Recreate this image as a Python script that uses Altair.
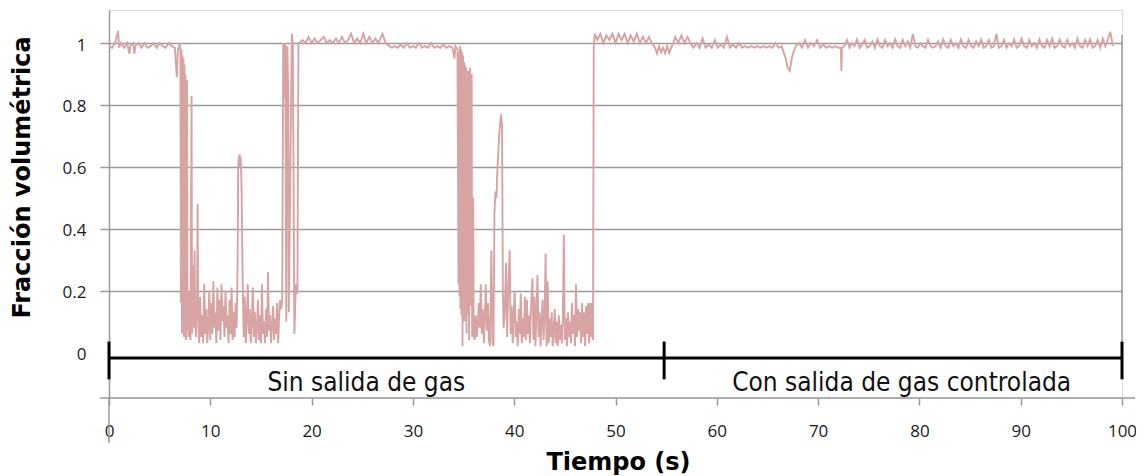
import altair as alt
import pandas as pd

# ---------------- data ----------------
seg_plateau_a = [(0.0,0.99),(0.3,0.985),(0.6,1.0),(0.9,1.04),(1.0,0.985),(1.2,1.0),(1.5,0.985),(1.8,1.0),
                 (2.0,0.965),(2.1,0.99),(2.4,1.0),(2.5,0.965),(2.6,0.99),(2.9,1.0),(3.2,0.985),(3.5,1.0),
                 (3.8,0.985),(4.1,0.99),(4.4,1.0),(4.7,0.985),(5.0,1.0),(5.3,0.99),(5.6,0.985),(5.9,1.0),
                 (6.2,0.99),(6.5,0.985),(6.7,0.89),(6.8,0.98),(6.95,0.99)]

seg_dip_a = [(7.0,1.0),(7.05,0.97),(7.1,0.16),(7.15,0.98),(7.2,0.06),(7.25,0.96),(7.3,0.12),(7.35,0.95),
             (7.4,0.05),(7.45,0.93),(7.5,0.08),(7.55,0.9),(7.6,0.04),(7.7,0.88),(7.75,0.1),(7.85,0.05),
             (7.95,0.2),(8.05,0.04),(8.15,0.83),(8.2,0.06),(8.3,0.28),(8.35,0.08),(8.45,0.33),(8.5,0.1),
             (8.6,0.05),(8.7,0.2),(8.75,0.48),(8.8,0.15),(8.9,0.03),
             (9.0,0.18),(9.1,0.05),(9.2,0.12),(9.3,0.03),(9.4,0.22),(9.5,0.06),(9.6,0.14),(9.7,0.03),
             (9.8,0.09),(9.9,0.2),(10.0,0.04),(10.1,0.16),(10.2,0.06),(10.3,0.23),(10.4,0.08),(10.5,0.13),
             (10.6,0.03),(10.7,0.21),(10.8,0.07),(10.9,0.17),(11.0,0.04),(11.1,0.22),(11.2,0.1),(11.3,0.15),
             (11.4,0.05),(11.5,0.2),(11.6,0.08),(11.7,0.12),(11.8,0.03),(11.9,0.17),(12.0,0.06),(12.1,0.21),
             (12.2,0.04),(12.3,0.13),(12.4,0.05),(12.5,0.16),(12.6,0.08),
             (12.7,0.3),(12.75,0.6),(12.8,0.62),(12.9,0.64),(12.95,0.6),(13.0,0.63),(13.05,0.58),(13.1,0.5),
             (13.15,0.35),(13.2,0.22),
             (13.3,0.05),(13.4,0.18),(13.5,0.03),(13.6,0.11),(13.7,0.22),(13.8,0.06),(13.9,0.14),(14.0,0.03),
             (14.1,0.1),(14.2,0.21),(14.3,0.05),(14.4,0.13),(14.5,0.03),(14.6,0.08),(14.7,0.17),(14.8,0.04),
             (14.9,0.12),(15.0,0.03),(15.1,0.22),(15.2,0.06),(15.3,0.1),(15.4,0.03),(15.5,0.14),(15.6,0.05),
             (15.7,0.26),(15.8,0.07),(15.9,0.12),(16.0,0.03),(16.1,0.09),(16.2,0.15),(16.3,0.04),(16.4,0.11),
             (16.5,0.06),(16.6,0.16),(16.7,0.03),(16.8,0.12),(16.9,0.17),(17.0,0.14),
             (17.1,0.17),(17.2,1.0),(17.3,0.82),(17.4,1.0),(17.5,0.1),(17.6,0.99),(17.7,0.82),(17.75,0.13),
             (18.05,1.03),(18.15,0.99),(18.3,0.06),(18.45,0.22),(18.6,0.19),(18.7,1.0)]

seg_plateau_b = [(18.8,1.0),(19.1,1.01),(19.4,1.0),(19.7,1.02),(20.0,1.0),(20.3,1.015),(20.6,1.0),(20.9,1.01),
                 (21.2,1.02),(21.5,1.0),(21.8,1.01),(22.1,1.0),(22.4,1.015),(22.7,1.0),(23.0,1.02),(23.3,1.0),
                 (23.6,1.01),(23.9,1.03),(24.2,1.0),(24.5,1.015),(24.8,1.0),(25.1,1.03),(25.4,1.0),(25.7,1.02),
                 (26.0,1.0),(26.3,1.015),(26.6,1.0),(27.0,1.03),(27.3,1.0),(27.7,0.99)]

seg_plateau_c = [(27.9,0.985),(28.2,0.99),(28.5,0.985),(28.8,0.995),(29.1,0.985),(29.4,1.0),(29.7,0.985),
                 (30.0,0.99),(30.3,0.985),(30.6,1.0),(30.9,0.985),(31.2,0.99),(31.5,0.985),(31.8,1.0),
                 (32.1,0.985),(32.4,0.99),(32.7,0.985),(33.0,0.995),(33.3,0.985),(33.6,0.99),(33.9,0.985),
                 (34.1,0.95),(34.2,0.99),(34.3,0.985)]

seg_dip_b = [(34.4,0.98),(34.5,0.22),(34.55,0.97),(34.6,0.18),(34.65,0.99),(34.7,0.14),(34.75,0.98),(34.8,0.12),
             (34.85,0.97),(34.9,0.02),(34.95,0.96),(35.0,0.15),(35.05,0.94),(35.1,0.1),(35.15,0.93),(35.2,0.18),
             (35.25,0.92),(35.3,0.06),(35.35,0.91),(35.4,0.12),(35.5,0.91),(35.55,0.04),(35.65,0.92),(35.7,0.15),
             (35.8,0.9),(35.85,0.05),(35.95,0.5),(36.0,0.06),
             (36.1,0.04),(36.2,0.12),(36.3,0.05),(36.4,0.09),(36.5,0.16),(36.6,0.08),(36.7,0.22),(36.8,0.06),
             (36.9,0.14),(37.0,0.03),(37.1,0.11),(37.2,0.22),(37.3,0.07),(37.4,0.16),(37.5,0.04),(37.6,0.02),
             (37.75,0.33),(37.85,0.03),(37.95,0.02),
             (38.05,0.45),(38.15,0.52),(38.25,0.5),(38.35,0.6),(38.45,0.66),(38.55,0.72),(38.65,0.75),
             (38.7,0.77),(38.8,0.73),(38.88,0.2),
             (38.95,0.08),(39.05,0.12),(39.2,0.29),(39.3,0.05),(39.4,0.18),(39.55,0.33),(39.65,0.06),
             (39.75,0.15),(39.85,0.03),(39.95,0.12),(40.05,0.2),(40.15,0.05),(40.25,0.1),(40.35,0.02),
             (40.45,0.14),(40.55,0.06),(40.65,0.19),(40.75,0.03),(40.85,0.11),(40.95,0.05),(41.05,0.18),
             (41.15,0.04),(41.25,0.17),(41.35,0.06),(41.45,0.12),(41.55,0.03),(41.65,0.14),(41.8,0.24),
             (41.9,0.04),(42.0,0.18),(42.1,0.02),(42.2,0.14),(42.3,0.25),(42.4,0.05),(42.5,0.13),(42.6,0.02),
             (42.7,0.1),(42.8,0.17),(42.9,0.04),(43.0,0.12),(43.1,0.32),(43.2,0.02),(43.3,0.23),(43.4,0.03),
             (43.5,0.11),(43.6,0.05),(43.7,0.13),(43.8,0.02),(43.9,0.07),(44.0,0.14),(44.1,0.03),(44.2,0.1),
             (44.3,0.02),(44.4,0.12),(44.5,0.04),(44.6,0.09),(44.7,0.03),(44.8,0.11),(44.9,0.38),(45.0,0.04),
             (45.1,0.11),(45.2,0.02),(45.3,0.13),(45.4,0.05),(45.5,0.1),(45.6,0.03),(45.7,0.16),(45.8,0.06),
             (45.9,0.12),(46.0,0.02),(46.1,0.22),(46.2,0.05),(46.3,0.14),(46.4,0.07),(46.5,0.13),(46.6,0.03),
             (46.7,0.16),(46.8,0.05),(46.9,0.13),(47.0,0.02),(47.1,0.15),(47.2,0.06),(47.3,0.16),(47.4,0.03),
             (47.5,0.16),(47.6,0.05),(47.7,0.16),(47.78,0.04)]

seg_mid = [(47.85,0.98),(47.95,1.03),(48.2,1.01),(48.5,1.03),(48.8,1.0),(49.1,1.025),(49.4,1.01),(49.7,1.03),
           (50.0,1.0),(50.3,1.03),(50.6,1.01),(50.9,1.03),(51.2,1.0),(51.5,1.025),(51.8,1.005),(52.1,1.03),
           (52.4,1.0),(52.7,1.02),(53.0,1.0),(53.3,1.02),(53.6,1.0),
           (53.9,0.985),(54.1,0.967),(54.3,0.99),(54.5,0.97),(54.7,0.985),(54.9,0.967),(55.1,0.99),
           (55.3,0.968),(55.5,0.985),(55.7,1.0),
           (55.9,1.02),(56.2,1.0),(56.5,1.025),(56.8,1.0),(57.1,1.02),(57.4,1.0),
           (57.7,0.985),(58.0,1.0),(58.3,0.985),(58.6,1.015),(58.9,0.985),(59.2,0.995),(59.5,0.985),
           (59.8,1.01),(60.1,0.985),(60.4,0.995),(60.7,0.985),(61.0,1.02),(61.3,0.985),(61.6,0.995),
           (61.9,0.985),(62.2,1.0),(62.5,0.985),(62.8,0.99),(63.1,0.985),(63.4,0.99),(63.7,0.985),
           (64.0,0.99),(64.3,0.985),(64.6,0.99),(64.9,0.985),(65.2,0.99),(65.5,0.985),(65.8,1.0),
           (66.1,0.985),(66.4,0.99),
           (66.6,0.97),(66.8,0.95),(67.0,0.92),(67.2,0.91),(67.4,0.95),(67.6,0.975),(67.8,0.99),
           (68.1,1.0),(68.4,0.985),(68.7,1.01),(69.0,0.985),(69.3,1.0),(69.6,0.99),(69.9,1.01),(70.2,0.985),
           (70.5,0.995),(70.8,0.985),(71.1,0.99),(71.4,0.985),(71.7,0.99),(72.0,0.985),(72.25,0.985),
           (72.3,0.91),(72.35,0.985)]

# last stretch, sampled every 0.25 s from t = 72.6 s
tail_start, tail_step = 72.6, 0.25
tail_values = [0.99,1.01,0.985,1.0,0.99,1.012,0.985,0.995,1.01,0.985,0.99,1.005,0.985,1.012,0.99,0.985,1.01,0.99,1.0,0.985,
               1.012,0.99,0.985,1.01,0.99,1.005,0.985,1.03,0.99,0.985,1.0,0.99,0.985,1.01,0.99,0.985,0.99,1.005,0.985,1.012,
               0.99,0.985,1.01,0.99,1.0,0.985,1.012,0.99,0.985,1.01,0.99,0.985,1.005,0.99,1.012,0.985,0.99,1.01,0.985,0.99,
               1.03,0.985,0.99,1.01,0.985,1.0,0.99,1.012,0.985,0.99,1.015,0.99,0.985,1.01,0.99,1.0,0.985,1.012,0.99,0.985,
               1.01,0.99,1.015,0.985,0.99,1.012,0.99,0.985,1.01,0.99,1.0,0.985,1.015,0.99,0.985,1.01,0.99,1.012,0.985,0.99,
               1.01,0.985,1.015,0.99,1.01,1.037,0.99]

y_tick_values = [0, 0.2, 0.4, 0.6, 0.8, 1]
x_tick_values = [0, 10, 20, 30, 40, 50, 60, 70, 80, 90, 100]

# bracket annotation (data units)
bracket_level = [-0.018]
bracket_span = [0, 100]
bracket_marks = [0, 54.8, 100]
bracket_mark_range = [0.035, -0.087]
phase_labels = ["Sin salida de gas", "Con salida de gas controlada"]
phase_label_x = [25.4, 78.25]
phase_label_y = [-0.125, -0.125]
right_edge = [(100, 1.026, 0.035)]

Y_DOMAIN = [-0.1474, 1.107]
X_DOMAIN = [0, 100]

# ---------------- build ----------------
seg_tail = [(round(tail_start + tail_step * i, 3), v) for i, v in enumerate(tail_values)]
pts = seg_plateau_a + seg_dip_a + seg_plateau_b + seg_plateau_c + seg_dip_b + seg_mid + seg_tail
df = pd.DataFrame(pts, columns=["t", "v"])

xs = alt.Scale(domain=X_DOMAIN, nice=False, zero=False)
ys = alt.Scale(domain=Y_DOMAIN, nice=False, zero=False)

GRID = "#9a9a9a"
LABEL_FONT = "Open Sans"
TITLE_FONT = "DejaVu Sans"
NARROW_FONT = "DejaVu Sans Condensed, Liberation Sans, Arial, sans-serif"

line = alt.Chart(df).mark_line(color="#D7A3A3", strokeWidth=1.9, clip=True).encode(
    x=alt.X("t:Q", scale=xs, axis=alt.Axis(
        values=x_tick_values, title="Tiempo (s)", grid=False, domain=False,
        tickColor=GRID, tickSize=7, tickWidth=1.5,
        labelFont=LABEL_FONT, labelFontSize=17, labelColor="#1a1a1a",
        labelBaseline="middle", labelPadding=26, labelFlush=False,
        titleFont=TITLE_FONT, titleFontSize=24, titleFontWeight="bold", titleColor="#000000",
        titleX=509, titleY=71, titleBaseline="alphabetic", titleAlign="center")),
    y=alt.Y("v:Q", scale=ys, axis=alt.Axis(
        values=y_tick_values, format="~g", title="Fracción volumétrica",
        grid=True, gridColor=GRID, gridWidth=1.5,
        gridOpacity=alt.condition("datum.value == 0", alt.value(0), alt.value(1)),
        tickOpacity=alt.condition("datum.value == 0", alt.value(0), alt.value(1)),
        domainColor=GRID, domainWidth=1.5,
        tickColor=GRID, tickSize=9, tickWidth=1.5,
        labelFont=LABEL_FONT, labelFontSize=17, labelColor="#1a1a1a",
        labelPadding=14, labelOffset=2, labelBaseline="middle",
        titleFont=TITLE_FONT, titleFontSize=24, titleFontWeight="bold", titleColor="#000000",
        titleX=-80, titleY=167, titleBaseline="alphabetic", titleAlign="center", titleAngle=270)),
)

# axis line extensions (as in the original Excel look)
x_axis_line = alt.Chart(pd.DataFrame({"a": [0]})).mark_rule(color=GRID, strokeWidth=1.5).encode(
    x=alt.value(-9), x2=alt.value(1026), y=alt.value(388))
y_axis_ext = alt.Chart(pd.DataFrame({"a": [0]})).mark_rule(color=GRID, strokeWidth=1.5).encode(
    x=alt.value(0), y=alt.value(388), y2=alt.value(433))

right_df = pd.DataFrame(right_edge, columns=["x", "y", "y2"])
right_line = alt.Chart(right_df).mark_rule(color=GRID, strokeWidth=1.5).encode(
    x=alt.X("x:Q", scale=xs), y=alt.Y("y:Q", scale=ys), y2="y2:Q")

hb_df = pd.DataFrame({"x": [bracket_span[0]], "x2": [bracket_span[1]], "y": bracket_level})
hbar = alt.Chart(hb_df).mark_rule(color="#000000", strokeWidth=3).encode(
    x=alt.X("x:Q", scale=xs), x2="x2:Q", y=alt.Y("y:Q", scale=ys))

vb_df = pd.DataFrame({"x": bracket_marks,
                      "y": [bracket_mark_range[0]] * len(bracket_marks),
                      "y2": [bracket_mark_range[1]] * len(bracket_marks)})
vbar = alt.Chart(vb_df).mark_rule(color="#000000", strokeWidth=3).encode(
    x=alt.X("x:Q", scale=xs), y=alt.Y("y:Q", scale=ys), y2="y2:Q")

lab_df = pd.DataFrame({"x": phase_label_x, "y": phase_label_y, "text": phase_labels})
labels = alt.Chart(lab_df).mark_text(font=NARROW_FONT, fontSize=26, color="#111111",
                                     align="center", baseline="alphabetic").encode(
    x=alt.X("x:Q", scale=xs), y=alt.Y("y:Q", scale=ys), text="text:N")

chart = alt.layer(line, x_axis_line, y_axis_ext, right_line, hbar, vbar, labels).properties(
    width=1013, height=388,
    autosize=alt.AutoSizeParams(type="none"),
    padding={"left": 101, "top": 2, "right": 14, "bottom": 77},
).configure_view(stroke=None).configure(background="white")

chart.save("out.html", embed_options={"renderer": "svg", "actions": False})
